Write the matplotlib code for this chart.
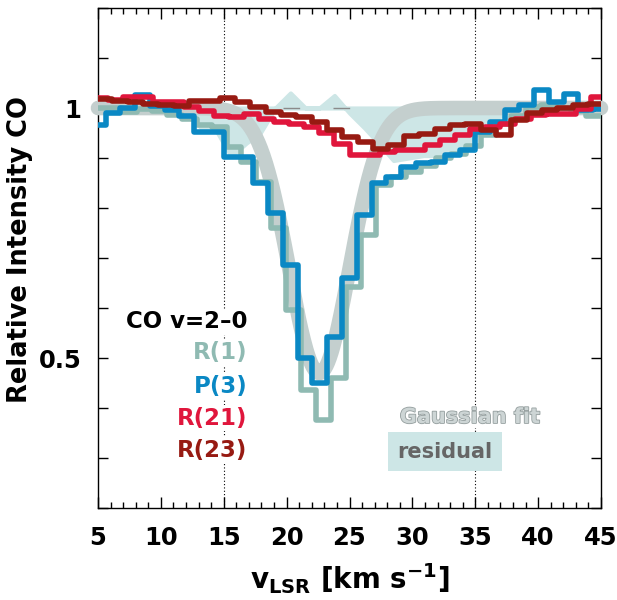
import numpy as np
import matplotlib
matplotlib.use("Agg")
import matplotlib.pyplot as plt
from matplotlib.ticker import MultipleLocator, FuncFormatter
import matplotlib.patheffects as pe

# ---------------- data ----------------
# R(1): channel grid start / width (km/s) and relative intensity per channel
r1_start, r1_width = 4.51, 1.19
r1_vals = [1.0, 1.0, 0.992, 0.998, 0.995, 0.986, 0.979, 0.966, 0.962, 0.923,
           0.893, 0.853, 0.76, 0.596, 0.436, 0.376, 0.46, 0.642, 0.746, 0.846,
           0.863, 0.872, 0.885, 0.9, 0.908, 0.925, 0.946, 0.969, 0.985, 1.003,
           1.006, 1.0, 0.995, 0.985, 0.985]

# P(3)
p3_start, p3_width = 4.43, 1.175
p3_vals = [0.966, 0.99, 1.0, 1.026, 1.005, 0.996, 0.985, 0.952, 0.952, 0.903,
           0.903, 0.85, 0.79, 0.686, 0.5, 0.45, 0.542, 0.66, 0.786, 0.85,
           0.862, 0.883, 0.89, 0.893, 0.906, 0.916, 0.953, 0.973, 0.996, 1.006,
           1.036, 1.013, 1.029, 0.996, 0.998]

# R(21)
r21_start, r21_width = 4.6, 1.2
r21_vals = [1.02, 1.016, 1.023, 1.023, 1.013, 1.013, 1.003, 0.995, 0.985, 0.983,
            0.989, 0.979, 0.972, 0.969, 0.962, 0.95, 0.929, 0.906, 0.906, 0.913,
            0.916, 0.916, 0.926, 0.936, 0.946, 0.959, 0.962, 0.969, 0.979, 0.986,
            0.989, 0.989, 0.999, 1.023]

# R(23)
r23_start, r23_width = 4.92, 1.22
r23_vals = [1.018, 1.015, 1.012, 1.008, 1.006, 1.005, 1.015, 1.015, 1.021, 1.013,
            1.003, 0.993, 0.986, 0.983, 0.973, 0.956, 0.943, 0.933, 0.919, 0.926,
            0.945, 0.949, 0.959, 0.966, 0.969, 0.956, 0.946, 0.976, 0.99, 0.996,
            1.0, 1.006, 1.009]

# Gaussian fit parameters (continuum, depth, centre, sigma)
g_cont, g_depth, g_center, g_sigma = 1.0, 0.53, 22.6, 2.4

# residual (plotted about 1)
res_v = [5.0, 6.2, 7.4, 8.5, 9.7, 10.9, 12.1, 13.2, 14.4, 15.6, 16.8, 17.9,
         19.1, 20.3, 21.5, 22.6, 23.8, 25.0, 26.2, 27.3, 28.5, 29.7, 30.9,
         32.0, 33.2, 34.4, 35.6, 36.8, 37.9, 39.1, 40.3, 41.4, 42.6, 43.8, 45.0]
res_y = [1.0, 1.0, 1.0, 1.005, 1.0, 1.0, 0.995, 0.96, 0.955, 0.903, 0.93, 0.95,
         1.0, 1.03, 1.0, 1.0, 1.025, 0.99, 0.96, 0.93, 0.895, 0.9, 0.905,
         0.905, 0.915, 0.928, 0.96, 0.98, 1.0, 1.0, 1.0, 1.0, 1.0, 1.0, 1.0]
zero_line_range = (19.7, 25.4)

labels = ["R(1)", "P(3)", "R(21)", "R(23)"]
colors = ["#8fbab2", "#0a88c4", "#e0163c", "#971a12"]

# ---------------- figure ----------------
plt.rcParams['font.family'] = ['DejaVu Sans']
plt.rcParams['font.weight'] = 'bold'
plt.rcParams['mathtext.fontset'] = 'dejavusans'
plt.rcParams['mathtext.default'] = 'bf'

fig = plt.figure(figsize=(6.17, 6.0), dpi=100)
ax = fig.add_axes([98/617, 92/600, 503/617, 500/600])

ax.set_xlim(5, 45)
ax.set_ylim(0.2, 1.2)

# dotted reference lines
for xv in (15, 35):
    ax.axvline(xv, color='black', lw=0.8, ls=(0, (1, 2)), zorder=1)

# residual
ax.fill_between(res_v, res_y, 1.0, color='#cde6e6', lw=3, edgecolor='#cde6e6', zorder=2)
ax.hlines(1.0, zero_line_range[0], zero_line_range[1], color='#8a8a8a', lw=1.0,
          linestyles=[(0, (12, 24))], zorder=3)

# Gaussian fit
vg = np.linspace(5, 45, 600)
gfit = g_cont - g_depth * np.exp(-0.5 * ((vg - g_center) / g_sigma) ** 2)
ax.plot(vg, gfit, color='#c4cfce', lw=10.5, solid_capstyle='round', clip_on=False, zorder=4)

# spectra
series = [(r1_start, r1_width, r1_vals), (p3_start, p3_width, p3_vals),
          (r21_start, r21_width, r21_vals), (r23_start, r23_width, r23_vals)]
for i, (st, w, vals) in enumerate(series):
    edges = np.round(st + w * np.arange(len(vals) + 1), 3)
    sp = ax.stairs(vals, edges, baseline=None, color=colors[i], lw=4.0, zorder=5 + i)
    sp.set_joinstyle('round')
    sp.set_capstyle('round')

# ticks
ax.xaxis.set_major_locator(MultipleLocator(5))
ax.xaxis.set_minor_locator(MultipleLocator(1))
ax.yaxis.set_major_locator(MultipleLocator(0.1))

def yfmt(v, pos):
    if abs(v - 1.0) < 1e-6:
        return "1"
    if abs(v - 0.5) < 1e-6:
        return "0.5"
    return ""
ax.yaxis.set_major_formatter(FuncFormatter(yfmt))
ax.tick_params(axis='both', which='both', direction='in', top=True, right=True,
               width=1.0, labelsize=17.5)
ax.tick_params(axis='x', which='major', length=8, pad=13)
ax.tick_params(axis='x', which='minor', length=4)
ax.tick_params(axis='y', which='major', length=7, pad=12)
for s in ax.spines.values():
    s.set_linewidth(1.0)

ax.set_ylabel("Relative Intensity CO", fontsize=18.5, fontweight='bold')
ax.yaxis.set_label_coords(-0.129, 0.516)
ax.set_xlabel(r"$v_{LSR}$ [km s$^{-1}$]", fontsize=20, fontweight='bold', labelpad=8)

# legend-like labels
ax.text(16.9, 0.572, "CO v=2\u20130", color='black', fontsize=16.5, fontweight='bold',
        ha='right', va='center', zorder=10,
        bbox=dict(facecolor='white', edgecolor='none', pad=1))
ypos = [0.51, 0.442, 0.38, 0.316]
for lab, col, yy in zip(labels, colors, ypos):
    ax.text(16.9, yy, lab, color=col, fontsize=16.5, fontweight='bold',
            ha='right', va='center', zorder=10,
            bbox=dict(facecolor='white', edgecolor='none', pad=1))

ax.text(29.0, 0.382, "Gaussian fit", color='#cdd5d5', fontsize=15, fontweight='bold',
        ha='left', va='center', zorder=10,
        path_effects=[pe.withStroke(linewidth=1.2, foreground='#949e9e')],
        bbox=dict(facecolor='white', edgecolor='none', pad=1))
ax.text(32.6, 0.313, "residual", color='#666666', fontsize=15, fontweight='bold',
        ha='center', va='center', zorder=10,
        bbox=dict(facecolor='#cde6e6', edgecolor='none', boxstyle='square,pad=0.45'))

fig.savefig("out.png", dpi=100)
